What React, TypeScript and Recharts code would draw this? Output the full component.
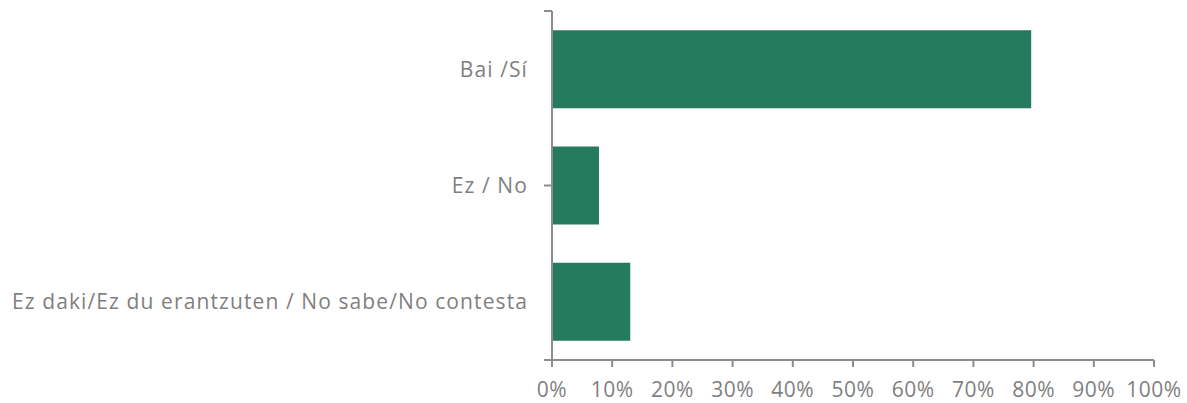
import React from "react";
import { BarChart, Bar, XAxis, YAxis } from "recharts";

const categories = ["Bai /Sí", "Ez / No", "Ez daki/Ez du erantzuten / No sabe/No contesta"];
const values = [79.6, 7.8, 13.0];
const xTicks = [0, 10, 20, 30, 40, 50, 60, 70, 80, 90, 100];
const boundaryTicks = [0, 1, 2, 3];

const data = categories.map((c, i) => ({ name: c, value: values[i] }));

const TEXT = "#7f7f7f";
const AXIS = "#8c8c8c";
const FONT = "'Open Sans', sans-serif";

export default function App() {
  return (
    <div style={{ position: "absolute", left: 0, top: 0, background: "#fff" }}>
      <BarChart
        width={1187}
        height={403}
        data={data}
        layout="vertical"
        margin={{ top: 11, right: 33, bottom: 0, left: 0 }}
        barCategoryGap="16.5%"
      >
        <YAxis
          yAxisId="c"
          type="category"
          dataKey="name"
          width={551}
          axisLine={false}
          tickLine={false}
          tickSize={8}
          tickMargin={15}
          tick={{ fill: TEXT, fontSize: 21, fontFamily: FONT, letterSpacing: 1.1 }}
        />
        <YAxis
          yAxisId="b"
          type="number"
          domain={[0, 3]}
          ticks={boundaryTicks}
          width={1}
          tickFormatter={() => ""}
          tickSize={8}
          tickLine={{ stroke: AXIS, strokeWidth: 2 }}
          axisLine={{ stroke: AXIS, strokeWidth: 2 }}
        />
        <XAxis
          type="number"
          domain={[0, 100]}
          ticks={xTicks}
          height={43}
          tickFormatter={(v: number) => `${v}%`}
          tickSize={7}
          tickMargin={15}
          tick={{ fill: TEXT, fontSize: 21, fontFamily: FONT, letterSpacing: 0.5 }}
          tickLine={{ stroke: AXIS, strokeWidth: 2 }}
          axisLine={{ stroke: AXIS, strokeWidth: 2 }}
          interval={0}
        />
        <Bar dataKey="value" yAxisId="c" fill="#267a5e" isAnimationActive={false} />
      </BarChart>
    </div>
  );
}
